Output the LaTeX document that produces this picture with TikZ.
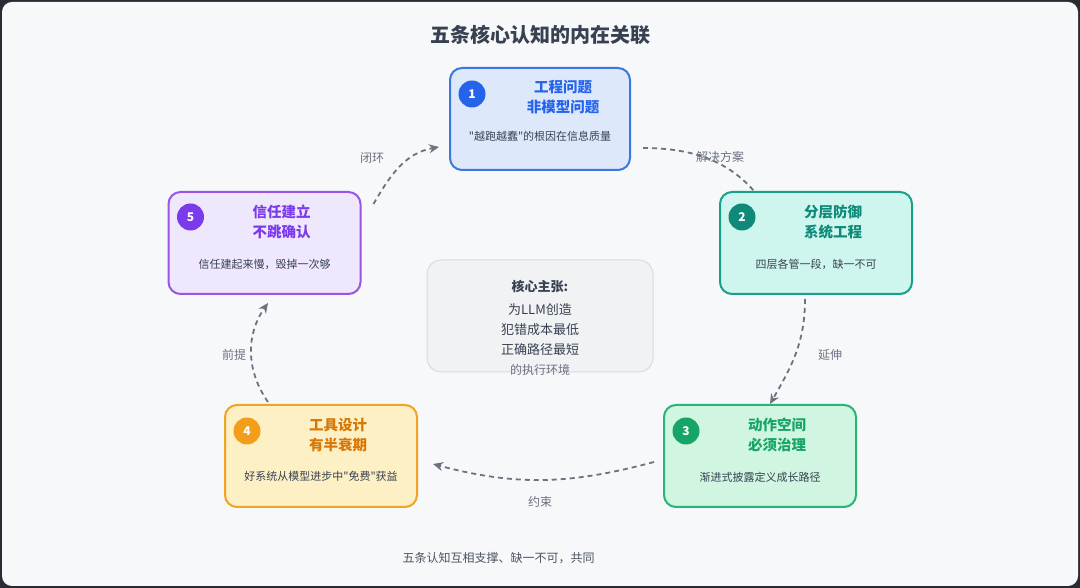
\documentclass[tikz,border=0pt]{standalone}
\usepackage{fontspec}
\setmainfont{Noto Sans CJK SC}[Ligatures=TeXOff]
\usepackage{tikz}
\usetikzlibrary{arrows.meta,positioning,backgrounds}

\definecolor{pagebg}{HTML}{F7F8FA}
\definecolor{frame}{HTML}{2A2A35}
\definecolor{ink}{HTML}{374151}
\definecolor{muted}{HTML}{6B7280}
\definecolor{blueline}{HTML}{3B76E1}
\definecolor{bluefill}{HTML}{DDE9FB}
\definecolor{bluetext}{HTML}{2563EB}
\definecolor{tealline}{HTML}{17A08A}
\definecolor{tealfill}{HTML}{CEF6EE}
\definecolor{tealtext}{HTML}{0F8A78}
\definecolor{greenline}{HTML}{27B676}
\definecolor{greenfill}{HTML}{D0F6E1}
\definecolor{greentext}{HTML}{16A566}
\definecolor{orangeline}{HTML}{F2A224}
\definecolor{orangefill}{HTML}{FDF0C4}
\definecolor{orangetext}{HTML}{D97706}
\definecolor{orangebadge}{HTML}{F29E1B}
\definecolor{purpleline}{HTML}{9B55E6}
\definecolor{purplefill}{HTML}{EFE7FC}
\definecolor{purpletext}{HTML}{7C3AED}
\definecolor{coreline}{HTML}{D9DBE0}
\definecolor{corefill}{HTML}{F1F2F4}

\begin{document}
\begin{tikzpicture}[x=1pt, y=1pt,
    card/.style={draw, line width=2pt, rounded corners=12pt, minimum width=192pt, minimum height=102pt},
    badge/.style={circle, minimum size=27pt, inner sep=0pt, text=white, font=\fontsize{12}{12}\selectfont\bfseries},
    head/.style={align=center, font=\fontsize{14.5}{20}\selectfont\bfseries},
    note/.style={text=ink, font=\fontsize{11}{13}\selectfont},
    tag/.style={text=muted, font=\fontsize{12}{14}\selectfont},
    flow/.style={draw=muted, line width=1.8pt, dash pattern=on 5pt off 4pt, -{Stealth[length=10pt, width=9pt]}}
]
    % Window
    \begin{scope}[on background layer]
        \fill[frame] (0,0) rectangle (1080,588);
        \fill[pagebg, rounded corners=10pt] (2,2) rectangle (1078,586);
    \end{scope}
    \useasboundingbox (0,0) rectangle (1080,588);

    \node[text=ink, font=\fontsize{20}{24}\selectfont\bfseries] (title) at (540,553) {五条核心认知的内在关联};

    % Five cards
    \node[card, draw=blueline, fill=bluefill, minimum width=180pt] (b1) at (540,469) {};
    \node[badge, fill=bluetext] (n1) at ([shift={(23,-27)}]b1.north west) {1};
    \node[head, text=bluetext] (h1) at ([shift={(23,-30)}]b1.north) {工程问题\\非模型问题};
    \node[note] (s1) at ([yshift=-69]b1.north) {"越跑越蠢"的根因在信息质量};

    \node[card, draw=tealline, fill=tealfill] (b2) at (816,345) {};
    \node[badge, fill=tealtext] (n2) at ([shift={(23,-26)}]b2.north west) {2};
    \node[head, text=tealtext] (h2) at ([shift={(17,-31)}]b2.north) {分层防御\\系统工程};
    \node[note] (s2) at ([yshift=-73]b2.north) {四层各管一段，缺一不可};

    \node[card, draw=greenline, fill=greenfill] (b3) at (760,132) {};
    \node[badge, fill=greentext] (n3) at ([shift={(23,-27)}]b3.north west) {3};
    \node[head, text=greentext] (h3) at ([shift={(17,-31)}]b3.north) {动作空间\\必须治理};
    \node[note] (s3) at ([yshift=-73]b3.north) {渐进式披露定义成长路径};

    \node[card, draw=orangeline, fill=orangefill] (b4) at (321,132) {};
    \node[badge, fill=orangebadge] (n4) at ([shift={(23,-27)}]b4.north west) {4};
    \node[head, text=orangetext] (h4) at ([shift={(17,-31)}]b4.north) {工具设计\\有半衰期};
    \node[note] (s4) at ([yshift=-72]b4.north) {好系统从模型进步中"免费"获益};

    \node[card, draw=purpleline, fill=purplefill] (b5) at (264.5,345) {};
    \node[badge, fill=purpletext] (n5) at ([shift={(23,-26)}]b5.north west) {5};
    \node[head, text=purpletext] (h5) at ([shift={(17,-30.5)}]b5.north) {信任建立\\不跳确认};
    \node[note] (s5) at ([yshift=-73]b5.north) {信任建起来慢，毁掉一次够};

    % Core claim
    \node[draw=coreline, fill=corefill, line width=1pt, rounded corners=14pt, minimum width=226pt, minimum height=112pt] (core) at (540,272) {};
    \node[text=ink, font=\fontsize{13}{15}\selectfont\bfseries] (claim) at ([yshift=-27]core.north) {核心主张:};
    \node[text=ink, align=center, font=\fontsize{13}{20}\selectfont] (body) at ([yshift=-70]core.north) {为LLM创造\\犯错成本最低\\正确路径最短};
    \node[text=muted, font=\fontsize{12}{14}\selectfont] (tail) at ([yshift=-110]core.north) {的执行环境};

    % Links round the cycle
    \begin{scope}[on background layer]
        \draw[flow] ([shift={(12,-29)}]b1.east) to[out=0, in=125] ([shift={(-50,-16)}]b2.north);
        \draw[flow] ([shift={(-11,-4)}]b2.south) to[out=-90, in=60] ([xshift=10]b3.north);
        \draw[flow] ([shift={(-9,-6)}]b3.west) to[out=195, in=-15] ([shift={(15,-8)}]b4.east);
        \draw[flow] ([shift={(-53,2)}]b4.north) to[out=125, in=-125] ([shift={(3.5,-8)}]b5.south);
        \draw[flow] ([shift={(12,39)}]b5.east) to[out=60, in=190] ([shift={(-10,-28)}]b1.west);
    \end{scope}

    % Link labels
    \node[tag] (l12) at (720,431) {解决方案};
    \node[tag] (l23) at (830,233) {延伸};
    \node[tag] (l34) at (540,86) {约束};
    \node[tag] (l45) at (234,233) {前提};
    \node[tag] (l51) at (372,430) {闭环};

    \node[anchor=west, text=ink!90, font=\fontsize{12}{14}\selectfont] (foot) at (399,30) {五条认知互相支撑、缺一不可，共同};
\end{tikzpicture}
\end{document}
